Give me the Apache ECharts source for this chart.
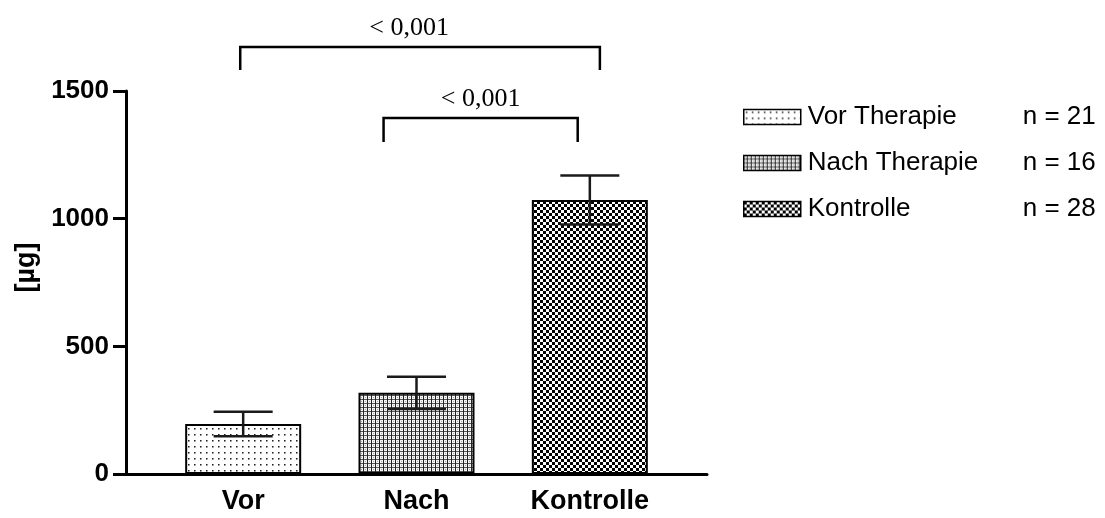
<!DOCTYPE html>
<html><head><meta charset="utf-8">
<script src="https://cdn.jsdelivr.net/npm/echarts@6/dist/echarts.min.js"></script>
<style>html,body{margin:0;padding:0;background:#fff}#c{width:1105px;height:518px}</style>
</head><body><div id="c"></div>
<script>
// ---- data ----
const categories = ['Vor', 'Nach', 'Kontrolle'];
const seriesNames = ['Vor Therapie', 'Nach Therapie', 'Kontrolle'];
const nCounts = [21, 16, 28];
const means = [196, 318, 1073];
const sems = [48, 63, 96];
const yTicks = [0, 500, 1000, 1500];
const comparisonFrom = [0, 1];
const comparisonTo = [2, 2];
const comparisonLabels = ['< 0,001', '< 0,001'];

// ---- styles / layout ----
const bracketLayout = [
  {dl: -0.017, dr: 0.058, top: 1672, bottom: 1582, labelDx: -11},
  {dl: -0.19, dr: -0.07, top: 1394, bottom: 1300, labelDx: 0}
];

function makePattern(kind) {
  const c = document.createElement('canvas');
  const ctx = c.getContext('2d');
  if (kind === 0) {
    c.width = 6; c.height = 6;
    ctx.fillStyle = '#fff'; ctx.fillRect(0, 0, 6, 6);
    ctx.fillStyle = '#222'; ctx.fillRect(2, 2, 1, 1);
    ctx.fillStyle = '#888'; ctx.fillRect(3, 2, 1, 1); ctx.fillRect(2, 3, 1, 1);
    ctx.fillStyle = '#bbb'; ctx.fillRect(3, 3, 1, 1);
  } else if (kind === 1) {
    c.width = 4; c.height = 4;
    ctx.fillStyle = '#f4f4f4'; ctx.fillRect(0, 0, 4, 4);
    ctx.fillStyle = '#555'; ctx.fillRect(0, 3, 4, 1);
    ctx.fillStyle = '#222'; ctx.fillRect(3, 0, 1, 4);
    ctx.fillStyle = '#aaa'; ctx.fillRect(1, 1, 1, 1);
  } else {
    c.width = 6; c.height = 6;
    ctx.fillStyle = '#fff'; ctx.fillRect(0, 0, 6, 6);
    ctx.fillStyle = '#000'; ctx.fillRect(0, 0, 3, 3); ctx.fillRect(3, 3, 3, 3);
  }
  return {image: c, repeat: 'repeat'};
}

const chart = echarts.init(document.getElementById('c'), null, {renderer: 'canvas'});

const barSeries = seriesNames.map((name, i) => ({
  name: name,
  type: 'bar',
  barWidth: 116,
  barGap: '-100%',
  data: [[i, means[i]]],
  itemStyle: {color: makePattern(i), borderColor: '#000', borderWidth: 2},
  z: 2
}));

const errorSeries = {
  type: 'custom',
  data: means.map((m, i) => [i, m - sems[i], m + sems[i]]),
  z: 5,
  renderItem: function (params, api) {
    const x = api.value(0);
    const lo = api.coord([x, api.value(1)]);
    const hi = api.coord([x, api.value(2)]);
    const hw = 29.5;
    const st = {stroke: '#1a1a1a', lineWidth: 2.5};
    return {type: 'group', children: [
      {type: 'line', shape: {x1: hi[0], y1: hi[1], x2: lo[0], y2: lo[1]}, style: st},
      {type: 'line', shape: {x1: hi[0] - hw, y1: hi[1], x2: hi[0] + hw, y2: hi[1]}, style: st},
      {type: 'line', shape: {x1: lo[0] - hw, y1: lo[1], x2: lo[0] + hw, y2: lo[1]}, style: st}
    ]};
  }
};

const bracketSeries = {
  type: 'custom',
  clip: false,
  data: comparisonFrom.map((f, i) => [f + bracketLayout[i].dl, comparisonTo[i] + bracketLayout[i].dr, bracketLayout[i].top, bracketLayout[i].bottom, i]),
  z: 5,
  renderItem: function (params, api) {
    const idx = api.value(4);
    const a = api.coord([api.value(0), api.value(3)]);
    const b = api.coord([api.value(0), api.value(2)]);
    const c = api.coord([api.value(1), api.value(2)]);
    const d = api.coord([api.value(1), api.value(3)]);
    return {type: 'group', children: [
      {type: 'polyline', shape: {points: [a, b, c, d]}, style: {stroke: '#000', lineWidth: 2.5, fill: null}},
      {type: 'text', x: (b[0] + c[0]) / 2 + bracketLayout[idx].labelDx, y: b[1] - 19,
        style: {text: comparisonLabels[idx], fontFamily: 'Liberation Serif', fontSize: 26, fill: '#000', align: 'center', verticalAlign: 'middle'}}
    ]};
  }
};

const option = {
  animation: false,
  backgroundColor: '#fff',
  grid: {left: 126, right: 398, top: 91, bottom: 44, containLabel: false},
  xAxis: {
    type: 'value',
    min: -0.676, max: 2.676,
    splitLine: {show: false},
    axisTick: {show: false},
    axisLine: {show: true, onZero: false, lineStyle: {color: '#000', width: 3}},
    axisLabel: {
      customValues: [0, 1, 2],
      formatter: v => categories[Math.round(v)],
      fontFamily: 'Liberation Sans', fontWeight: 'bold', fontSize: 27, color: '#000', margin: 14
    }
  },
  yAxis: {
    type: 'value',
    min: yTicks[0], max: yTicks[yTicks.length - 1], interval: 500,
    name: '[µg]', nameLocation: 'middle', nameGap: 81,
    nameTextStyle: {fontFamily: 'Liberation Sans', fontWeight: 'bold', fontSize: 27, color: '#000', padding: [0, 0, 0, 30]},
    splitLine: {show: false},
    axisLine: {show: true, onZero: false, lineStyle: {color: '#000', width: 3}},
    axisTick: {show: true, length: 13, lineStyle: {color: '#000', width: 3}},
    axisLabel: {formatter: v => String(v), fontFamily: 'Liberation Sans', fontWeight: 'bold', fontSize: 26, color: '#000', margin: 17}
  },
  legend: {
    orient: 'vertical', left: 743, top: 104, padding: 0,
    itemWidth: 57, itemHeight: 15, itemGap: 20,
    icon: 'rect',
    selectedMode: false,
    itemStyle: {borderColor: '#000', borderWidth: 1.5},
    data: seriesNames,
    formatter: function (name) {
      const i = seriesNames.indexOf(name);
      return '{a|' + name + '}{b|n = ' + nCounts[i] + '}';
    },
    textStyle: {
      color: '#000',
      rich: {
        a: {width: 215, fontFamily: 'Liberation Sans', fontSize: 26, lineHeight: 26, color: '#000', padding: [0, 0, 0, 2]},
        b: {fontFamily: 'Liberation Sans', fontSize: 26, lineHeight: 26, color: '#000'}
      }
    }
  },
  series: barSeries.concat([errorSeries, bracketSeries])
};
chart.setOption(option);
</script>
</body></html>
